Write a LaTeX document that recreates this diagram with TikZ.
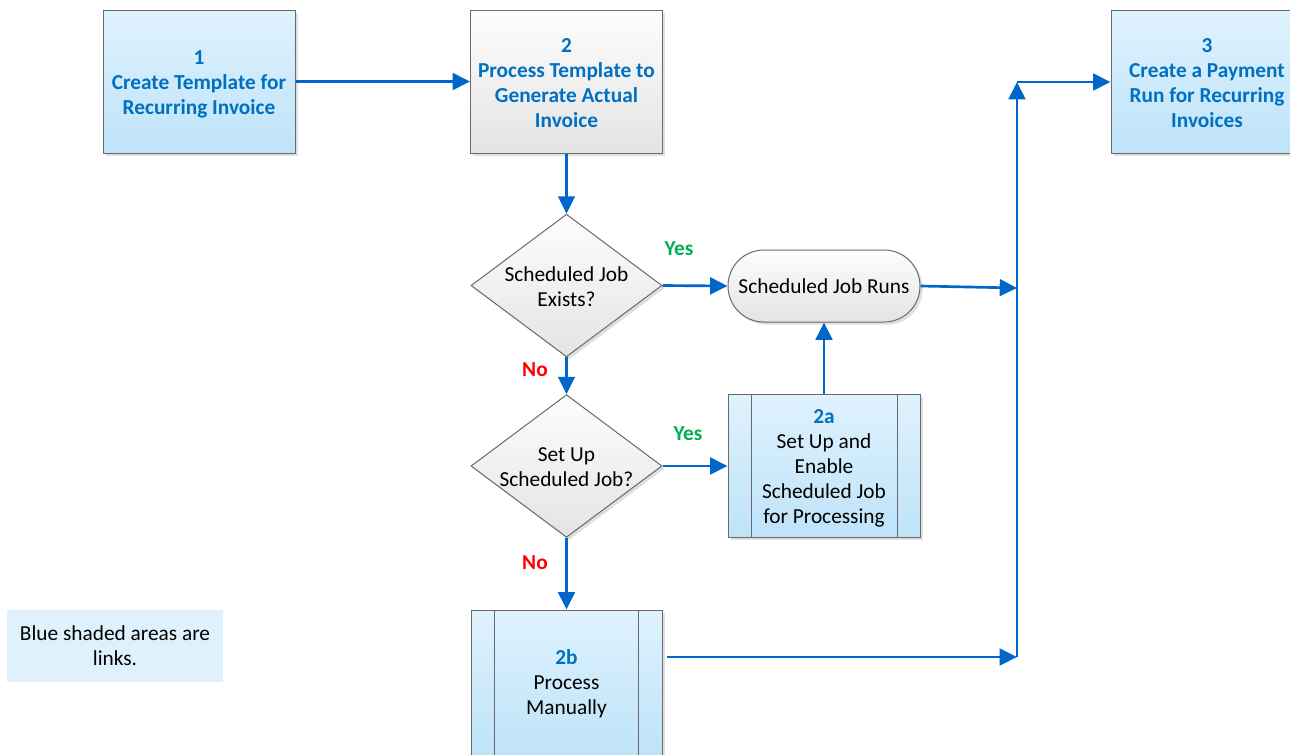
\documentclass[tikz,border=0pt]{standalone}
\usepackage{fontspec}
\setmainfont{Carlito}
\usetikzlibrary{shapes.geometric,arrows.meta,shadows,calc}
\definecolor{txtblue}{HTML}{0070C0}
\definecolor{arrblue}{HTML}{0066CC}
\definecolor{yesgreen}{HTML}{00B050}
\definecolor{nored}{HTML}{FF0000}
\definecolor{bluetop}{HTML}{DFF2FD}
\definecolor{bluebot}{HTML}{BEE3F9}
\definecolor{graytop}{HTML}{FDFDFD}
\definecolor{graybot}{HTML}{E4E4E4}
\definecolor{edgegray}{HTML}{6A6A6A}
\definecolor{legendfill}{HTML}{DFF1FC}
\newcommand{\tstrut}[1]{\rule{0pt}{#1}}
\begin{document}
\begin{tikzpicture}[x=0.75pt,y=-0.75pt,
  every node/.style={font=\fontsize{16}{18.75}\selectfont},
  shapeshadow/.style={drop shadow={shadow xshift=2pt,shadow yshift=-2pt,opacity=0.35,fill=black!35}},
  bluebox/.style={rectangle,draw=edgegray,line width=0.75pt,top color=bluetop,bottom color=bluebot,
    minimum width=144pt,minimum height=107.25pt,inner sep=0pt,align=center,shapeshadow},
  graybox/.style={bluebox,top color=graytop,bottom color=graybot},
  decision/.style={diamond,draw=edgegray,line width=0.75pt,top color=graytop,bottom color=graybot,
    minimum width=143.25pt,minimum height=107pt,inner sep=0pt,shapeshadow},
  terminal/.style={rectangle,rounded corners=26.9pt,draw=edgegray,line width=0.75pt,top color=graytop,bottom color=graybot,
    minimum width=144pt,minimum height=54pt,inner sep=0pt,align=center,shapeshadow},
  innerline/.style={draw=edgegray,line width=0.75pt},
  conn/.style={draw=arrblue,line width=2pt,-{Triangle[length=13pt,width=12.5pt]}},
  yeslbl/.style={text=yesgreen,font=\fontsize{16}{18.75}\selectfont\bfseries},
  nolbl/.style={text=nored,font=\fontsize{16}{18.75}\selectfont\bfseries},
  legendbox/.style={rectangle,fill=legendfill,minimum width=162pt,minimum height=54pt,inner sep=0pt,align=center}
]
\clip (0,0) rectangle (1290,754);
\fill[white] (0,0) rectangle (1290,754);

% boxes
\node[bluebox,text=txtblue,font=\fontsize{16}{18.75}\selectfont\bfseries] (b1) at (199,81.5)
  {\tstrut{14.6pt}1\\Create Template for\\Recurring Invoice};
\node[graybox,text=txtblue,font=\fontsize{16}{18.75}\selectfont\bfseries] (b2) at (566.5,81.5)
  {\tstrut{13.3pt}2\\Process Template to\\Generate Actual\\Invoice};
\node[bluebox,text=txtblue,font=\fontsize{16}{18.75}\selectfont\bfseries] (b3) at (1207,81.5)
  {\tstrut{13.3pt}3\\Create a Payment\\Run for Recurring\\Invoices};

% decisions
\node[decision,label={[align=center,font=\fontsize{16}{18.75}\selectfont]center:\tstrut{12.8pt}Scheduled Job\\Exists?}] (d1) at (566.5,285.5) {};
\node[decision,label={[align=center,font=\fontsize{16}{18.75}\selectfont]center:\tstrut{12.8pt}Set Up\\Scheduled Job?}] (d2) at (566.5,466) {};

% terminal
\node[terminal] (term) at (824,286) {Scheduled Job Runs};

% subprocess boxes
\node[bluebox] (b2a) at (824,466)
  {\tstrut{13.3pt}\textcolor{txtblue}{\bfseries 2a}\\Set Up and\\Enable\\Scheduled Job\\for Processing};
\draw[innerline] ($(b2a.north west)+(24,0)$) -- ($(b2a.south west)+(24,0)$);
\draw[innerline] ($(b2a.north east)+(-23,0)$) -- ($(b2a.south east)+(-23,0)$);

\node[bluebox,minimum width=143.25pt,minimum height=108.75pt] (b2b) at (566.5,682.5)
  {\tstrut{12.8pt}\textcolor{txtblue}{\bfseries 2b}\\Process\\Manually};
\draw[innerline] ($(b2b.north west)+(24,0)$) -- ($(b2b.south west)+(24,0)$);
\draw[innerline] ($(b2b.north east)+(-24,0)$) -- ($(b2b.south east)+(-24,0)$);

% legend
\node[legendbox] (leg) at (115,646) {Blue shaded areas are\\links.};

% labels
\node[yeslbl] (y1) at (679,249) {Yes};
\node[yeslbl] (y2) at (688,434) {Yes};
\node[nolbl] (n1) at (535,370) {No};
\node[nolbl] (n2) at (535,563) {No};

% junction coordinates
\coordinate (jt) at (1017,82);
\coordinate (jm) at (1017,288);
\coordinate (jb) at (1017,657);

% connectors
\draw[conn] (b1.east) -- (b2.west);
\draw[conn] (b2.south) -- (d1.north);
\draw[conn] (d1.east) -- (term.west);
\draw[conn] (d1.south) -- (d2.north);
\draw[conn] (d2.east) -- (b2a.west);
\draw[conn] (b2a.north) -- (term.south);
\draw[conn] (d2.south) -- (b2b.north);
\draw[conn] (term.east) -- (jm);
\draw[conn,shorten <=3pt] (b2b.east |- jb) -- (jb);
\draw[conn] (jb) -- (jt);
\draw[conn] (jt) -- (jt -| b3.west);
\end{tikzpicture}
\end{document}
